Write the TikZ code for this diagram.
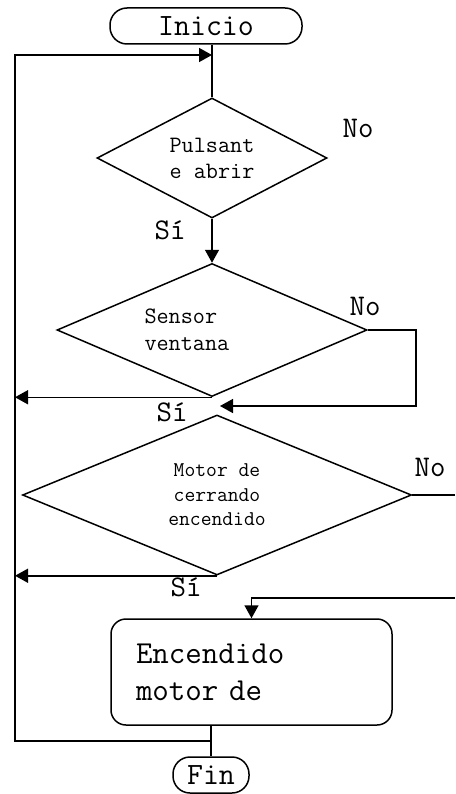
\documentclass[tikz,border=0pt]{standalone}
\renewcommand{\familydefault}{\ttdefault}
\usetikzlibrary{arrows.meta,shapes.geometric}

\begin{document}
\begin{tikzpicture}[x=1pt, y=-1pt,
  line width=1.5pt,
  term/.style={draw, rounded corners=17pt, minimum width=#1, minimum height=36pt,
               inner sep=0pt, font=\fontsize{31}{34}\selectfont},
  dec/.style={draw, diamond, inner sep=0pt, align=center},
  proc/.style={draw, rounded corners=15pt, minimum width=281pt, minimum height=106pt,
               text width=231pt, inner xsep=25pt, align=left,
               font=\fontsize{32}{37}\selectfont},
  arr/.style={-{Triangle[length=13pt, width=14pt]}},
  lbl/.style={inner sep=0pt, font=\fontsize{30}{32}\selectfont}]

\useasboundingbox (0,0) rectangle (455,794);

% ---------------- start and first decision -------------------------------
\node[term=192pt] (inicio) at (206,26) {Inicio};
\node[dec, minimum width=230pt, minimum height=120pt, shape aspect=1.9,
      font=\fontsize{23.5}{26}\selectfont] (d1) at (212,158) {Pulsant\\e abrir};

% ---------------- window sensor and motor check --------------------------
\node[dec, minimum width=310pt, minimum height=133pt, shape aspect=2.33,
      text width=135pt, align=left,
      font=\fontsize{23.5}{27}\selectfont] (d2) at (212,330) {Sensor\\ventana};
\node[dec, minimum width=389pt, minimum height=160pt, shape aspect=2.43,
      font=\fontsize{21}{24.5}\selectfont] (d3) at (217,495)
      {Motor de\\cerrando\\encendido};

% ---------------- action and end -----------------------------------------
\node[proc] (box) at (251.5,672) {Encendido\\motor de};
\node[term=76pt] (fin) at (211,775) {Fin};

% ---------------- helper points for the loops ----------------------------
\coordinate (lft) at (15,55);
\coordinate (jtop) at (212,55);
\coordinate (jbot) at (211,741);
\coordinate (cn) at (416,406);
\coordinate (ct) at (220,406);
\coordinate (rgt) at (455,598);

% ---------------- connectors ---------------------------------------------
\draw (d1.north |- inicio.south) -- (d1.north);
\draw[arr] (jbot) -| (lft) -- (jtop);
\draw[arr] (d1.south) -- (d2.north);
\draw[arr] (d2.east) -| (cn) -- (ct);
\draw[arr] (d2.south) -- (d2.south -| lft);
\draw (d3.east) -- (d3.east -| rgt);
\draw[arr] (d3.south) -- (d3.south -| lft);
\draw[arr] (rgt) -| (box.north);
\draw (box.south -| fin.north) -- (fin.north);

% ---------------- branch labels ------------------------------------------
\node[lbl] (no1) at (358,128) {No};
\node[lbl] (si1) at (170,230) {Sí};
\node[lbl] (no2) at (365,306) {No};
\node[lbl] (si2) at (172,412) {Sí};
\node[lbl] (no3) at (430,467) {No};
\node[lbl] (si3) at (186,587) {Sí};
\end{tikzpicture}
\end{document}
